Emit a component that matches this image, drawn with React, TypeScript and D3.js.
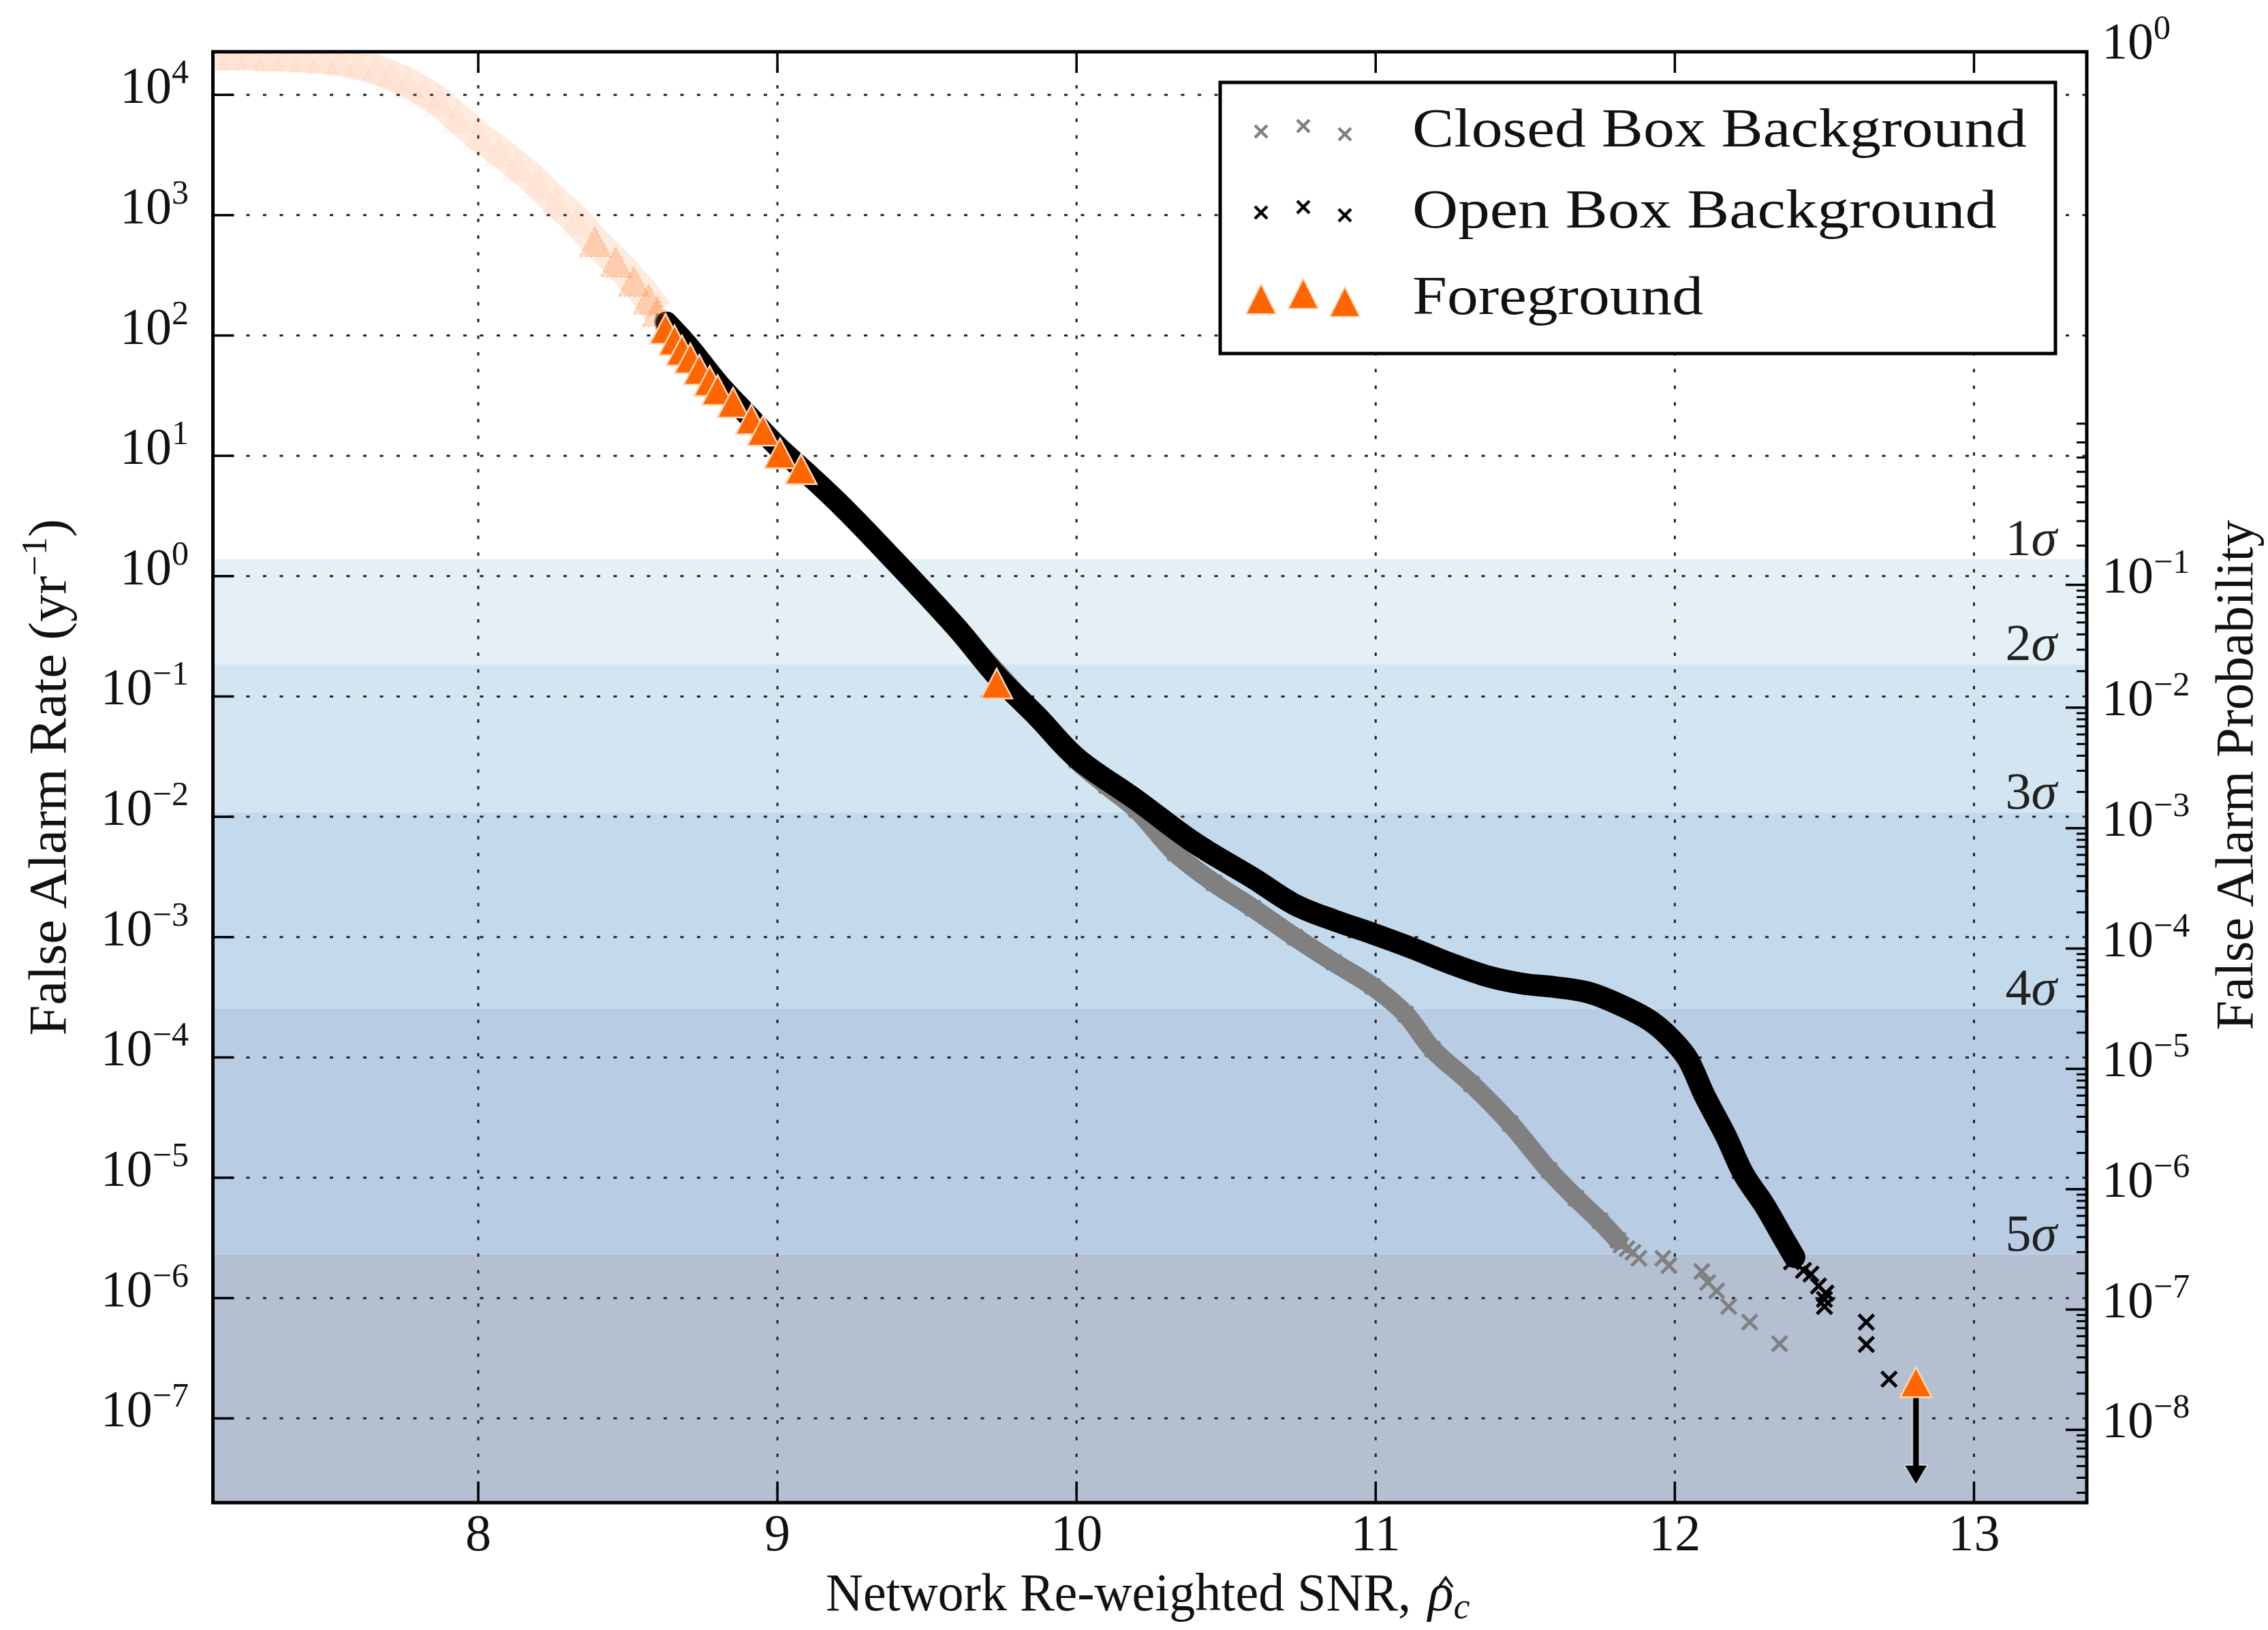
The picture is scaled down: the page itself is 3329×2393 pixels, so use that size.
import React from 'react';
import * as d3 from 'd3';

// axis ranges
const snrRange = [7.113, 13.377];
const farRange = [1.995e-8, 2.28e4];

const xTicks = [8, 9, 10, 11, 12, 13];
const farTickExps = [4, 3, 2, 1, 0, -1, -2, -3, -4, -5, -6, -7];
const probTickExps = [0, -1, -2, -3, -4, -5, -6, -7, -8];
const probMinorMults = [2, 3, 4, 5, 6, 7, 8, 9];

// significance bands (one-sided p-values) and the observing time used for FAP
const sigmaNames = ['1', '2', '3', '4', '5'];
const sigmaProbs = [0.1587, 0.02275, 0.00135, 3.167e-5, 2.867e-7];
const obsTimeYr = 0.1245;

// [snr, FAR (1/yr)]
const closedBoxDense = [
  [8.62, 130], [8.8, 39.8], [9.0, 12.0], [9.22, 3.72], [9.41, 1.2],
  [9.61, 0.347], [9.87, 0.0676], [10.0, 0.0295], [10.1, 0.0182], [10.2, 0.0115],
  [10.33, 5.01e-3], [10.46, 2.82e-3], [10.59, 1.74e-3], [10.73, 1.0e-3],
  [10.86, 6.17e-4], [10.99, 3.89e-4], [11.1, 2.29e-4], [11.19, 1.17e-4],
  [11.32, 6.03e-5], [11.45, 2.82e-5], [11.58, 1.15e-5], [11.67, 6.76e-6],
  [11.75, 4.37e-6], [11.81, 3.02e-6],
];
const closedBoxSparse = [
  [11.82, 2.75e-6], [11.84, 2.57e-6], [11.86, 2.4e-6], [11.88, 2.14e-6],
  [11.96, 2.14e-6], [11.98, 1.86e-6], [12.09, 1.66e-6], [12.11, 1.35e-6],
  [12.14, 1.15e-6], [12.18, 8.51e-7], [12.25, 6.31e-7], [12.35, 4.17e-7],
];

const openBoxDense = [
  [8.63, 128], [8.7, 83], [8.8, 40.5], [8.9, 21.9], [9.0, 12.0],
  [9.11, 6.76], [9.22, 3.72], [9.41, 1.2], [9.61, 0.347], [9.73, 0.151],
  [9.87, 0.0676], [10.0, 0.0309], [10.2, 0.0138], [10.39, 6.17e-3],
  [10.59, 3.09e-3], [10.73, 1.86e-3], [10.86, 1.38e-3], [10.99, 1.07e-3],
  [11.12, 8.13e-4], [11.25, 6.03e-4], [11.38, 4.68e-4], [11.5, 4.07e-4],
  [11.58, 3.89e-4], [11.71, 3.47e-4], [11.84, 2.57e-4], [11.92, 2.0e-4],
  [11.97, 1.58e-4], [12.04, 1.0e-4], [12.1, 4.79e-5], [12.17, 2.24e-5],
  [12.23, 1.07e-5], [12.3, 5.89e-6], [12.36, 3.24e-6], [12.4, 2.19e-6],
];
const openBoxSparse = [
  [12.39, 2.0e-6], [12.43, 1.7e-6], [12.455, 1.58e-6], [12.48, 1.26e-6],
  [12.505, 1.1e-6], [12.5, 9.77e-7], [12.5, 8.51e-7], [12.64, 6.31e-7],
  [12.64, 4.12e-7], [12.716, 2.12e-7],
];

const foregroundFaint = [
  [7.12, 2.14e4], [7.18, 2.14e4], [7.24, 2.14e4], [7.3, 2.09e4], [7.36, 2.09e4],
  [7.42, 2.04e4], [7.48, 2.0e4], [7.54, 1.91e4], [7.6, 1.78e4], [7.66, 1.62e4],
  [7.71, 1.45e4], [7.765, 1.26e4], [7.82, 1.05e4], [7.87, 8.71e3], [7.93, 6.46e3],
  [8.0, 4.57e3], [8.07, 3.39e3], [8.13, 2.57e3], [8.2, 1.82e3], [8.26, 1.29e3],
  [8.33, 891],
];
const foregroundMid = [
  [8.39, 603], [8.46, 407], [8.52, 282], [8.57, 200], [8.6, 158],
];
const foregroundSolid = [
  [8.626, 113.5], [8.656, 91.2], [8.681, 75.2], [8.709, 64.6], [8.739, 52.0],
  [8.774, 41.9], [8.8, 35.2], [8.852, 27.7], [8.913, 20.1], [8.952, 16.2],
  [9.009, 10.5], [9.079, 7.74], [9.733, 0.128], [12.806, 2.0e-7],
];
const upperLimit = { snr: 12.806, from: 2.0e-7, to: 2.8e-8 };

const legendLabels = ['Closed Box Background', 'Open Box Background', 'Foreground'];

const W = 3329;
const H = 2393;
const plot = { left: 312.5, right: 3063, top: 76, bottom: 2206 };
const bandColors = ['#e4eff6', '#d3e5f1', '#c3d9ec', '#b8cde4', '#b4bfd2'];
const font = '"Liberation Serif", "Times New Roman", serif';
const ink = '#111';

const fmtExp = (e: number) => (e < 0 ? '\u2212' + Math.abs(e) : String(e));
const farFromProb = (p: number) => -Math.log1p(-p) / obsTimeYr;

const crossPath = (s: number) => `M${-s},${-s}L${s},${s}M${-s},${s}L${s},${-s}`;
const triPath = (w: number, h: number) => `M0,${-h / 2}L${w / 2},${h / 2}L${-w / 2},${h / 2}Z`;

export default function App() {
  const x = d3.scaleLinear().domain(snrRange).range([plot.left, plot.right]);
  const y = d3.scaleLog().domain(farRange).range([plot.bottom, plot.top]);

  const line = d3.line<number[]>()
    .x(d => x(d[0]))
    .y(d => y(d[1]))
    .curve(d3.curveCatmullRom);

  // sigma band edges
  const sigmaFar = sigmaProbs.map(farFromProb);
  const bands = sigmaFar.map((f, i) => ({
    top: y(Math.min(f, farRange[1])),
    bottom: i < sigmaFar.length - 1 ? y(sigmaFar[i + 1]) : plot.bottom,
    color: bandColors[i],
  }));

  // right axis ticks (false alarm probability)
  const probMajor = probTickExps.filter(e => e < 0).map(e => ({ e, py: y(farFromProb(Math.pow(10, e))) }));
  const probMinor: number[] = [];
  probTickExps.forEach(e => {
    probMinorMults.forEach(m => {
      const p = m * Math.pow(10, e - 1);
      const f = farFromProb(p);
      if (f > farRange[0] && f < farRange[1]) probMinor.push(y(f));
    });
  });

  const crossW = 11;
  const triW = 46;
  const triH = 44;

  const legendRows = [188, 307, 434];
  const legendMarkX = [1851, 1913, 1974];
  const legendMarkDy = [5, -3, 9];
  const legendTextLen = [902, 858, 427];

  const arrowX = x(upperLimit.snr);
  const arrowTop = y(upperLimit.from);
  const arrowTip = y(upperLimit.to);
  const headLen = 29;
  const headW = 17;
  const shaftW = 5;

  const faintTrack = foregroundFaint.concat(foregroundMid);

  return (
    <svg width={W} height={H} style={{ position: 'absolute', left: 0, top: 0, background: '#fff' }}
      fontFamily={font}>
      <defs>
        <clipPath id="plot-clip">
          <rect x={plot.left} y={plot.top} width={plot.right - plot.left} height={plot.bottom - plot.top} />
        </clipPath>
      </defs>

      {/* sigma bands */}
      <g clipPath="url(#plot-clip)">
        {bands.map((b, i) => (
          <rect key={i} x={plot.left} y={b.top} width={plot.right - plot.left} height={b.bottom - b.top} fill={b.color} />
        ))}
      </g>

      {/* grid */}
      <g stroke="#222" strokeWidth={3} strokeDasharray="5 19.5">
        {farTickExps.map(e => (
          <line key={'h' + e} x1={plot.left} x2={plot.right} y1={y(Math.pow(10, e))} y2={y(Math.pow(10, e))} />
        ))}
        {xTicks.map(t => (
          <line key={'v' + t} x1={x(t)} x2={x(t)} y1={plot.top} y2={plot.bottom} />
        ))}
      </g>

      {/* sigma labels */}
      {sigmaFar.map((f, i) => (
        <text key={i} x={3019} y={y(f) - 6} textAnchor="end" fontSize={76} fill="#222">
          {sigmaNames[i]}<tspan fontStyle="italic">σ</tspan>
        </text>
      ))}

      <g clipPath="url(#plot-clip)">
        {/* closed box background */}
        <path d={line(closedBoxDense) || ''} fill="none" stroke="#808080" strokeWidth={28} strokeLinecap="round" strokeLinejoin="round" />
        {closedBoxDense.concat(closedBoxSparse).map((d, i) => (
          <path key={'c' + i} d={crossPath(crossW)} transform={`translate(${x(d[0])},${y(d[1])})`} stroke="#808080" strokeWidth={5} fill="none" />
        ))}

        {/* open box background */}
        <path d={line(openBoxDense) || ''} fill="none" stroke="#000" strokeWidth={32} strokeLinecap="round" strokeLinejoin="round" />
        {openBoxDense.concat(openBoxSparse).map((d, i) => (
          <path key={'o' + i} d={crossPath(crossW)} transform={`translate(${x(d[0])},${y(d[1])})`} stroke="#000" strokeWidth={5} fill="none" />
        ))}

        {/* upper limit arrow */}
        <path
          d={`M${arrowX - shaftW},${arrowTop} L${arrowX + shaftW},${arrowTop} L${arrowX + shaftW},${arrowTip - headLen} L${arrowX + headW},${arrowTip - headLen} L${arrowX},${arrowTip} L${arrowX - headW},${arrowTip - headLen} L${arrowX - shaftW},${arrowTip - headLen} Z`}
          fill="#000" stroke="#fff" strokeOpacity={0.6} strokeWidth={2}
        />

        {/* foreground: faint events blend into a pale band */}
        <path d={line(faintTrack) || ''} fill="none" stroke="#ff6600" strokeOpacity={0.13} strokeWidth={44} strokeLinejoin="round" />
        {foregroundFaint.map((d, i) => (
          <path key={'ff' + i} d={triPath(triW, triH)} transform={`translate(${x(d[0])},${y(d[1])})`}
            fill="#ff6600" fillOpacity={0.04} stroke="#ff6600" strokeOpacity={0.1} strokeWidth={1.5} strokeDasharray="3 5" />
        ))}
        {foregroundMid.map((d, i) => (
          <path key={'fm' + i} d={triPath(triW, triH)} transform={`translate(${x(d[0])},${y(d[1])})`}
            fill="#ff6600" fillOpacity={0.22} stroke="#ff6600" strokeOpacity={0.35} strokeWidth={1.5} strokeDasharray="3 4" />
        ))}
        {foregroundSolid.map((d, i) => (
          <path key={'fs' + i} d={triPath(triW, triH)} transform={`translate(${x(d[0])},${y(d[1])})`}
            fill="#ff6600" stroke="#ffd6b8" strokeWidth={2.5} />
        ))}
      </g>

      {/* ticks */}
      <g stroke="#000" strokeWidth={3.5}>
        {xTicks.map(t => (
          <g key={'xt' + t}>
            <line x1={x(t)} x2={x(t)} y1={plot.bottom} y2={plot.bottom - 31} />
            <line x1={x(t)} x2={x(t)} y1={plot.top} y2={plot.top + 31} />
          </g>
        ))}
        {farTickExps.map(e => (
          <line key={'yt' + e} x1={plot.left} x2={plot.left + 31} y1={y(Math.pow(10, e))} y2={y(Math.pow(10, e))} />
        ))}
        {probMajor.map(t => (
          <line key={'pt' + t.e} x1={plot.right} x2={plot.right - 31} y1={t.py} y2={t.py} />
        ))}
        {probMinor.map((py, i) => (
          <line key={'pm' + i} x1={plot.right} x2={plot.right - 15} y1={py} y2={py} strokeWidth={3} />
        ))}
      </g>

      {/* frame */}
      <rect x={plot.left} y={plot.top} width={plot.right - plot.left} height={plot.bottom - plot.top}
        fill="none" stroke="#000" strokeWidth={5} />

      {/* tick labels */}
      <g fill={ink} fontSize={76}>
        {xTicks.map(t => (
          <text key={'xl' + t} x={x(t)} y={2276} textAnchor="middle">{t}</text>
        ))}
        {farTickExps.map(e => (
          <text key={'yl' + e} x={277} y={y(Math.pow(10, e)) + 12} textAnchor="end">
            10<tspan dy={-29} fontSize={50}>{fmtExp(e)}</tspan>
          </text>
        ))}
        <text x={3085} y={plot.top + 10}>
          10<tspan dy={-29} fontSize={50}>{fmtExp(0)}</tspan>
        </text>
        {probMajor.map(t => (
          <text key={'pl' + t.e} x={3085} y={t.py + 11}>
            10<tspan dy={-29} fontSize={50}>{fmtExp(t.e)}</tspan>
          </text>
        ))}
      </g>

      {/* axis titles */}
      <g fill={ink} fontSize={78}>
        <text x={1212} y={2364} textLength={859} lengthAdjust="spacingAndGlyphs">Network Re-weighted SNR,</text>
        <text x={2096} y={2364} fontStyle="italic">
          {'\u03c1'}<tspan fontSize={54} dy={12}>c</tspan>
        </text>
        {/* hat over rho */}
        <path d="M2112,2330 L2122,2316 L2132,2330" fill="none" stroke={ink} strokeWidth={3.5} strokeLinejoin="miter" />
        <text transform="translate(96,1141) rotate(-90)" textAnchor="middle" textLength={759} lengthAdjust="spacingAndGlyphs">
          False Alarm Rate (yr<tspan dy={-28} fontSize={52}>{'\u22121'}</tspan><tspan dy={28}>)</tspan>
        </text>
        <text transform="translate(3306,1138) rotate(-90)" textAnchor="middle" textLength={749} lengthAdjust="spacingAndGlyphs">
          False Alarm Probability
        </text>
      </g>

      {/* legend */}
      <g>
        <rect x={1791} y={121} width={1226} height={398} fill="#fff" stroke="#000" strokeWidth={5} />
        {legendLabels.map((label, i) => (
          <g key={label}>
            {legendMarkX.map((mx, j) => (
              i < 2 ? (
                <path key={j} d={crossPath(9)} transform={`translate(${mx},${legendRows[i] + legendMarkDy[j]})`}
                  stroke={i === 0 ? '#808080' : '#000'} strokeWidth={4.5} fill="none" />
              ) : (
                <path key={j} d={triPath(44, 44)} transform={`translate(${mx},${legendRows[i] + legendMarkDy[j]})`}
                  fill="#ff6600" stroke="#ffd6b8" strokeWidth={2} />
              )
            ))}
            <text x={2073} y={legendRows[i] + 27} fontSize={80} fill={ink}
              textLength={legendTextLen[i]} lengthAdjust="spacingAndGlyphs">{label}</text>
          </g>
        ))}
      </g>
    </svg>
  );
}
